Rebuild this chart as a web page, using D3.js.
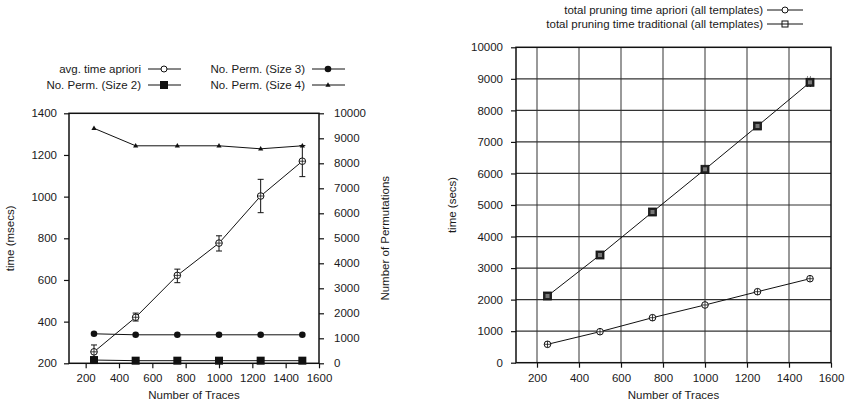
<!DOCTYPE html>
<html><head><meta charset="utf-8">
<script src="https://cdn.jsdelivr.net/npm/d3@7/dist/d3.min.js"></script>
<style>body{margin:0;background:#fff}text{font-family:"Liberation Sans",Arial,sans-serif;fill:#1a1a1a}</style>
</head><body><svg id="c" width="850" height="408"></svg>
<script>
const traces = [250, 500, 750, 1000, 1250, 1500];
const xTicks = [200, 400, 600, 800, 1000, 1200, 1400, 1600];
const leftYTicks = [200, 400, 600, 800, 1000, 1200, 1400];
const permTicks = [0, 1000, 2000, 3000, 4000, 5000, 6000, 7000, 8000, 9000, 10000];
const secsTicks = [0, 1000, 2000, 3000, 4000, 5000, 6000, 7000, 8000, 9000, 10000];

const avgTimeApriori = [255, 421, 622, 777, 1003, 1170];
const avgTimeAprioriLow = [228, 403, 587, 739, 923, 1096];
const avgTimeAprioriHigh = [288, 441, 652, 812, 1083, 1245];
const permSize2 = [130, 105, 105, 105, 105, 105];
const permSize3 = [1180, 1140, 1140, 1140, 1140, 1140];
const permSize4 = [9400, 8700, 8700, 8700, 8580, 8700];

const totalApriori = [583, 983, 1427, 1830, 2251, 2663];
const totalTraditional = [2115, 3415, 4778, 6132, 7505, 8890];
const totalTraditionalLow = [2115, 3415, 4778, 6132, 7505, 8760];
const totalTraditionalHigh = [2115, 3415, 4778, 6132, 7505, 9060];

const svg = d3.select("#c");
const FS = 11.5;
const fmt = d3.format("d");

function drawMarker(g, type, x, y) {
  if (type === "circleOpen") {
    g.append("circle").attr("cx", x).attr("cy", y).attr("r", 3.3).attr("fill", "#fff").attr("stroke", "#111").attr("stroke-width", 1);
    g.append("path").attr("d", `M${x-3.3},${y}H${x+3.3}M${x},${y-3.3}V${y+3.3}`).attr("stroke", "#111").attr("stroke-width", 0.8);
  } else if (type === "circleLegend") {
    g.append("circle").attr("cx", x).attr("cy", y).attr("r", 3).attr("fill", "#fff").attr("stroke", "#111").attr("stroke-width", 1);
  } else if (type === "circleFilled") {
    g.append("circle").attr("cx", x).attr("cy", y).attr("r", 3.3).attr("fill", "#111");
  } else if (type === "squareFilled") {
    g.append("rect").attr("x", x-4).attr("y", y-4).attr("width", 8).attr("height", 8).attr("fill", "#111");
  } else if (type === "triangle") {
    g.append("path").attr("d", `M${x},${y-2.8}L${x+2.6},${y+1.8}L${x-2.6},${y+1.8}Z`).attr("fill", "#111");
  } else if (type === "squareDark") {
    g.append("rect").attr("x", x-4).attr("y", y-4).attr("width", 8).attr("height", 8).attr("fill", "#222").attr("stroke", "#111").attr("stroke-width", 0.8);
    g.append("rect").attr("x", x-2).attr("y", y-2).attr("width", 4).attr("height", 4).attr("fill", "#777");
  }
}

function styleAxis(g) {
  g.selectAll(".domain").remove();
  g.selectAll("line").attr("stroke", "#111").attr("stroke-width", 1.2);
  g.selectAll("text").attr("font-size", FS).attr("fill", "#1a1a1a");
}

// ---------- Left chart ----------
{
  const L = 69, R = 319, T = 113.3, B = 363.3;
  const x = d3.scaleLinear().domain([100, 1600]).range([L, R]);
  const yl = d3.scaleLinear().domain([200, 1400]).range([B, T]);
  const yr = d3.scaleLinear().domain([0, 10000]).range([B, T]);
  const g = svg.append("g");

  const ax = g.append("g").attr("transform", `translate(0,${B})`).call(d3.axisBottom(x).tickValues(xTicks).tickFormat(fmt).tickSize(5).tickPadding(6));
  styleAxis(ax);
  const ayl = g.append("g").attr("transform", `translate(${L},0)`).call(d3.axisLeft(yl).tickValues(leftYTicks).tickFormat(fmt).tickSize(5).tickPadding(7));
  styleAxis(ayl);
  const ayr = g.append("g").attr("transform", `translate(${R},0)`).call(d3.axisRight(yr).tickValues(permTicks).tickFormat(fmt).tickSize(5).tickPadding(10));
  styleAxis(ayr);

  g.append("rect").attr("x", L).attr("y", T).attr("width", R-L).attr("height", B-T).attr("fill", "none").attr("stroke", "#111").attr("stroke-width", 1.5);

  const line = (ys, sc) => d3.line().x((d, i) => x(traces[i])).y(d => sc(d))(ys);
  const series = [
    {v: permSize4, sc: yr, m: "triangle"},
    {v: permSize3, sc: yr, m: "circleFilled"},
    {v: permSize2, sc: yr, m: "squareFilled"},
    {v: avgTimeApriori, sc: yl, m: "circleOpen"}
  ];
  series.forEach(s => {
    g.append("path").attr("d", line(s.v, s.sc)).attr("fill", "none").attr("stroke", "#111").attr("stroke-width", 1);
  });
  traces.forEach((t, i) => {
    const xx = x(t), y1 = yl(avgTimeAprioriLow[i]), y2 = yl(avgTimeAprioriHigh[i]);
    g.append("path").attr("d", `M${xx},${y1}V${y2}M${xx-3},${y1}H${xx+3}M${xx-3},${y2}H${xx+3}`).attr("stroke", "#111").attr("stroke-width", 1).attr("fill", "none");
  });
  series.forEach(s => {
    s.v.forEach((d, i) => drawMarker(g, s.m, x(traces[i]), s.sc(d)));
  });

  g.append("text").attr("transform", `translate(14,${(T+B)/2}) rotate(-90)`).attr("text-anchor", "middle").attr("font-size", FS).text("time (msecs)");
  g.append("text").attr("transform", `translate(389,${(T+B)/2}) rotate(-90)`).attr("text-anchor", "middle").attr("font-size", FS).text("Number of Permutations");
  g.append("text").attr("x", (L+R)/2).attr("y", 399).attr("text-anchor", "middle").attr("font-size", FS).text("Number of Traces");

  const leg = [
    {t: "avg. time apriori", xe: 141, y: 69, m: "circleLegend"},
    {t: "No. Perm. (Size 2)", xe: 141, y: 85, m: "squareFilled"},
    {t: "No. Perm. (Size 3)", xe: 305, y: 69, m: "circleFilled"},
    {t: "No. Perm. (Size 4)", xe: 305, y: 85, m: "triangle"}
  ];
  leg.forEach(l => {
    g.append("text").attr("x", l.xe).attr("y", l.y + 4).attr("text-anchor", "end").attr("font-size", FS).text(l.t);
    g.append("line").attr("x1", l.xe + 7).attr("x2", l.xe + 40).attr("y1", l.y).attr("y2", l.y).attr("stroke", "#111").attr("stroke-width", 1);
    drawMarker(g, l.m, l.xe + 23, l.y);
  });
}

// ---------- Right chart ----------
{
  const L = 516, R = 831, T = 47.3, B = 362.7;
  const x = d3.scaleLinear().domain([100, 1600]).range([L, R]);
  const y = d3.scaleLinear().domain([0, 10000]).range([B, T]);
  const g = svg.append("g");

  g.append("g").selectAll("line").data(xTicks.filter(d => d < 1600)).join("line")
    .attr("x1", d => x(d)).attr("x2", d => x(d)).attr("y1", T).attr("y2", B).attr("stroke", "#555").attr("stroke-width", 1.2);
  g.append("g").selectAll("line").data(secsTicks.filter(d => d > 0 && d < 10000)).join("line")
    .attr("x1", L).attr("x2", R).attr("y1", d => y(d)).attr("y2", d => y(d)).attr("stroke", "#333").attr("stroke-width", 1.2);

  const ax = g.append("g").attr("transform", `translate(0,${B})`).call(d3.axisBottom(x).tickValues(xTicks).tickFormat(fmt).tickSize(5).tickPadding(6));
  styleAxis(ax);
  const ay = g.append("g").attr("transform", `translate(${L},0)`).call(d3.axisLeft(y).tickValues(secsTicks).tickFormat(fmt).tickSize(5).tickPadding(8));
  styleAxis(ay);

  g.append("rect").attr("x", L).attr("y", T).attr("width", R-L).attr("height", B-T).attr("fill", "none").attr("stroke", "#111").attr("stroke-width", 1.5);

  const line = ys => d3.line().x((d, i) => x(traces[i])).y(d => y(d))(ys);
  g.append("path").attr("d", line(totalTraditional)).attr("fill", "none").attr("stroke", "#111").attr("stroke-width", 1);
  g.append("path").attr("d", line(totalApriori)).attr("fill", "none").attr("stroke", "#111").attr("stroke-width", 1);

  traces.forEach((t, i) => {
    const xx = x(t), y1 = y(totalTraditionalLow[i]), y2 = y(totalTraditionalHigh[i]);
    if (Math.abs(y1 - y2) > 1) {
      g.append("path").attr("d", `M${xx},${y1}V${y2}M${xx-3},${y1}H${xx+3}M${xx-3},${y2}H${xx+3}`).attr("stroke", "#333").attr("stroke-width", 1).attr("stroke-dasharray", "1,2").attr("fill", "none");
    }
  });
  totalTraditional.forEach((d, i) => drawMarker(g, "squareDark", x(traces[i]), y(d)));
  totalApriori.forEach((d, i) => drawMarker(g, "circleOpen", x(traces[i]), y(d)));

  g.append("text").attr("transform", `translate(456,${(T+B)/2}) rotate(-90)`).attr("text-anchor", "middle").attr("font-size", FS).text("time (secs)");
  g.append("text").attr("x", (L+R)/2).attr("y", 399).attr("text-anchor", "middle").attr("font-size", FS).text("Number of Traces");

  const leg = [
    {t: "total pruning time apriori (all templates)", y: 10, m: "circleLegend"},
    {t: "total pruning time traditional (all templates)", y: 24, m: "squareOpenSmall"}
  ];
  leg.forEach(l => {
    g.append("text").attr("x", 763).attr("y", l.y + 4).attr("text-anchor", "end").attr("font-size", FS).text(l.t);
    g.append("line").attr("x1", 767).attr("x2", 803).attr("y1", l.y).attr("y2", l.y).attr("stroke", "#111").attr("stroke-width", 1);
    if (l.m === "squareOpenSmall") {
      g.append("rect").attr("x", 782).attr("y", l.y - 3).attr("width", 6).attr("height", 6).attr("fill", "#fff").attr("stroke", "#111").attr("stroke-width", 1);
      g.append("line").attr("x1", 782).attr("x2", 788).attr("y1", l.y).attr("y2", l.y).attr("stroke", "#111").attr("stroke-width", 1);
    } else {
      drawMarker(g, l.m, 785, l.y);
    }
  });
}
</script></body></html>
